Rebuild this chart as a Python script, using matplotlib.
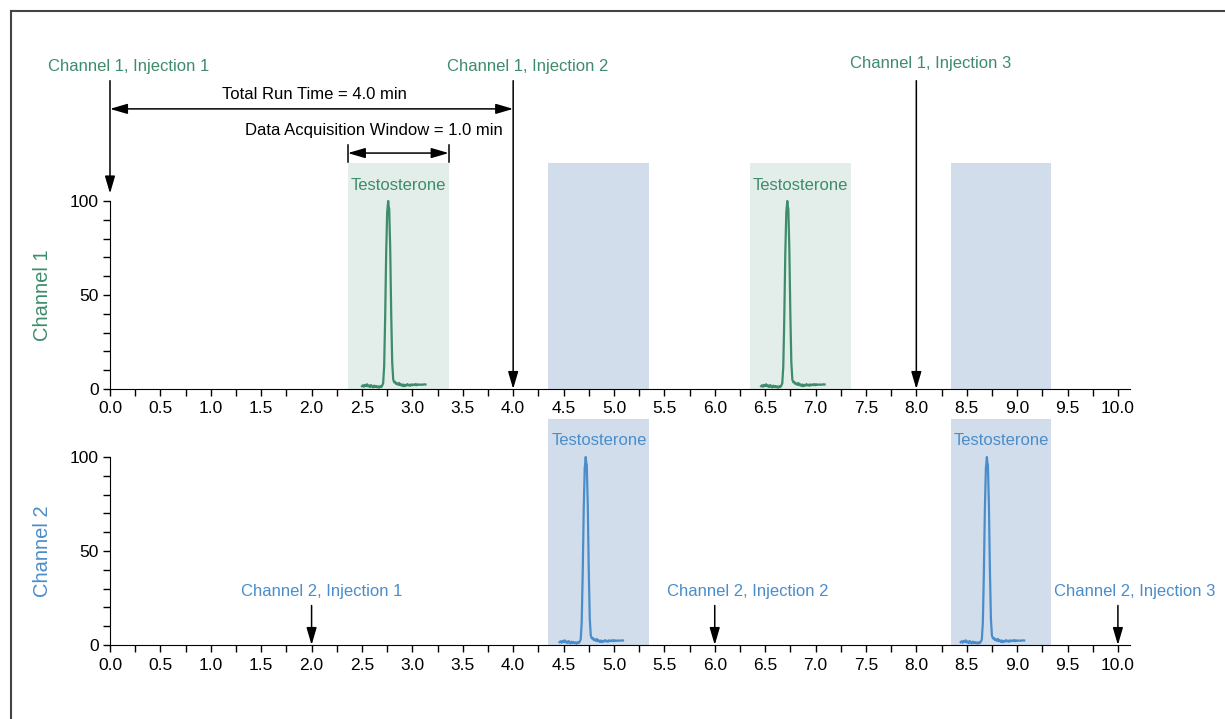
import matplotlib.pyplot as plt
from matplotlib.lines import Line2D
from matplotlib.ticker import MultipleLocator
import numpy as np

plt.rcParams['font.family'] = ['Liberation Sans', 'DejaVu Sans']

GREEN = "#3d8c6c"
BLUE = "#4a8dca"
GREEN_BG = "#e3ede9"
BLUE_BG = "#d2ddec"

# peak profile (time offset from apex in min, relative intensity)
peak_dt = [-0.26, -0.25, -0.24, -0.23, -0.22, -0.21, -0.20, -0.19, -0.18, -0.17,
           -0.16, -0.15, -0.14, -0.13, -0.12, -0.11, -0.10, -0.09, -0.08, -0.07,
           -0.06, -0.05, -0.04, -0.03, -0.02, -0.01, 0.0, 0.005, 0.01, 0.02,
           0.03, 0.04, 0.05, 0.06, 0.07, 0.08, 0.09, 0.10, 0.11, 0.12,
           0.13, 0.14, 0.15, 0.16, 0.17, 0.18, 0.19, 0.20, 0.21, 0.22,
           0.23, 0.24, 0.25, 0.26, 0.27, 0.28, 0.29, 0.30, 0.31, 0.32,
           0.33, 0.34, 0.35, 0.36, 0.37]
peak_y = [1.5, 2.0, 1.2, 2.2, 1.6, 2.5, 1.4, 1.9, 1.0, 2.1,
          1.3, 0.8, 1.8, 1.1, 1.6, 0.9, 1.4, 0.7, 1.5, 1.0,
          1.8, 3.0, 12, 38, 72, 94, 100, 97, 96, 75,
          40, 14, 5, 3.5, 3.8, 2.6, 3.0, 2.2, 3.2, 2.0,
          2.5, 1.6, 2.4, 1.5, 2.2, 1.8, 2.6, 1.9, 2.3, 1.7,
          2.5, 2.0, 2.4, 2.1, 2.6, 2.0, 2.5, 2.2, 2.3, 2.4,
          2.2, 2.4, 2.3, 2.5, 2.4]

ch1_apex = [2.76, 6.72]
ch2_apex = [4.72, 8.70]
ch1_windows = [(2.36, 3.36), (6.35, 7.35)]
ch2_windows = [(4.35, 5.35), (8.34, 9.34)]
ch1_injections = [0.0, 4.0, 8.0]
ch2_injections = [2.0, 6.0, 10.0]

fig = plt.figure(figsize=(12.25, 7.19), dpi=100)
ax1 = fig.add_axes([110/1225, 1-389/719, 1020/1225, 188/719])
ax2 = fig.add_axes([110/1225, 1-645/719, 1020/1225, 188/719])

# frame lines on the left and top of the figure
fig.add_artist(Line2D([11/1225, 11/1225], [0, 1-11/719], color="#444444", lw=1.5))
fig.add_artist(Line2D([11/1225, 1], [1-11/719, 1-11/719], color="#444444", lw=1.5))

for ax in (ax1, ax2):
    ax.set_xlim(0, 10.12)
    ax.set_ylim(0, 100)
    ax.spines['top'].set_visible(False)
    ax.spines['right'].set_visible(False)
    ax.xaxis.set_major_locator(MultipleLocator(0.5))
    ax.xaxis.set_minor_locator(MultipleLocator(0.25))
    ax.yaxis.set_major_locator(MultipleLocator(50))
    ax.yaxis.set_minor_locator(MultipleLocator(10))
    ax.set_xticks(np.arange(0, 10.01, 0.5))
    ax.set_xticklabels([f"{v:.1f}" for v in np.arange(0, 10.01, 0.5)])
    ax.tick_params(axis='both', which='major', length=5, width=1, labelsize=12.5, pad=3)
    ax.tick_params(axis='x', which='major', pad=4)
    ax.tick_params(axis='both', which='minor', length=5, width=1)
    ax.patch.set_alpha(0)

# shaded acquisition windows
for lo, hi in ch1_windows:
    ax1.axvspan(lo, hi, ymin=0, ymax=1.2, color=GREEN_BG, clip_on=False, zorder=0, lw=0)
for lo, hi in ch2_windows:
    ax1.axvspan(lo, hi, ymin=0, ymax=1.2, color=BLUE_BG, clip_on=False, zorder=0, lw=0)
    ax2.axvspan(lo, hi, ymin=0, ymax=1.2, color=BLUE_BG, clip_on=False, zorder=0, lw=0)

# traces
for t0 in ch1_apex:
    ax1.plot(np.array(peak_dt) + t0, peak_y, color=GREEN, lw=1.6, clip_on=False)
for t0 in ch2_apex:
    ax2.plot(np.array(peak_dt) + t0, peak_y, color=BLUE, lw=1.6, clip_on=False)

for (lo, hi) in ch1_windows:
    ax1.text((lo + hi) / 2, 108, "Testosterone", color=GREEN, fontsize=12,
             ha='center', va='center')
for (lo, hi) in ch2_windows:
    ax2.text((lo + hi) / 2, 109, "Testosterone", color=BLUE, fontsize=12,
             ha='center', va='center')

arrow = dict(arrowstyle='-|>,head_length=0.75,head_width=0.22', color='black',
             lw=1.1, mutation_scale=14, shrinkA=0, shrinkB=0)

# channel 1 injections
ch1_text_x = [0.18, 4.14, 8.14]
ch1_text_y = [171.8, 171.8, 172.9]
ch1_arrow_end = [104, 0, 0]
for i, (xi, tx, ty, ye) in enumerate(zip(ch1_injections, ch1_text_x, ch1_text_y, ch1_arrow_end)):
    ax1.text(tx, ty, f"Channel 1, Injection {i + 1}",
             color=GREEN, fontsize=12, ha='center', va='center', clip_on=False)
    ax1.annotate("", xy=(xi, ye), xytext=(xi, 164), arrowprops=arrow,
                 annotation_clip=False)

# total run time / acquisition window
dbl = dict(arrowstyle='<|-|>,head_length=0.75,head_width=0.22', color='black',
           lw=1.1, mutation_scale=14, shrinkA=0, shrinkB=0)
ax1.annotate("", xy=(0, 149), xytext=(4.0, 149), annotation_clip=False,
             arrowprops=dbl)
ax1.text(2.03, 156.5, "Total Run Time = 4.0 min", fontsize=12, ha='center',
         va='center')
ax1.annotate("", xy=(2.36, 125.5), xytext=(3.36, 125.5), annotation_clip=False,
             arrowprops=dbl)
ax1.plot([2.36, 2.36], [121, 130], color='black', lw=1.1, clip_on=False)
ax1.plot([3.36, 3.36], [121, 130], color='black', lw=1.1, clip_on=False)
ax1.text(2.62, 137.5, "Data Acquisition Window = 1.0 min", fontsize=12,
         ha='center', va='center')

# channel 2 injections
ch2_text_x = [2.10, 6.33, 10.17]
for i, (xi, tx) in enumerate(zip(ch2_injections, ch2_text_x)):
    ax2.text(tx, 28.7, f"Channel 2, Injection {i + 1}", color=BLUE, fontsize=12,
             ha='center', va='center', clip_on=False)
    ax2.annotate("", xy=(xi, 0), xytext=(xi, 21), arrowprops=arrow,
                 annotation_clip=False)

fig.text(42/1225, 1-295/719, "Channel 1", color=GREEN, fontsize=14.5,
         rotation=90, ha='center', va='center')
fig.text(42/1225, 1-551/719, "Channel 2", color=BLUE, fontsize=14.5,
         rotation=90, ha='center', va='center')

fig.savefig("out.png", dpi=100, facecolor='white')
